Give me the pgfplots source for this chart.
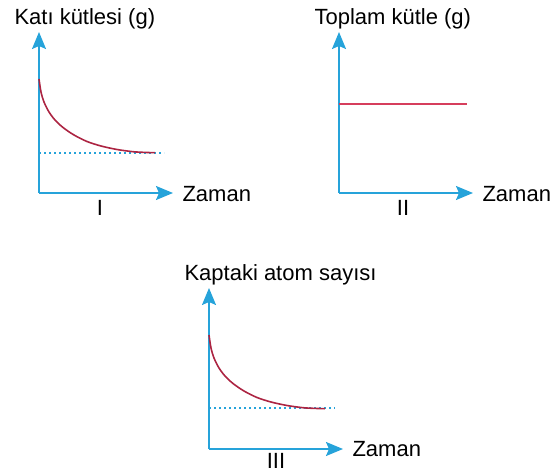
\documentclass[border=0pt]{standalone}
\usepackage{fontspec}
\setmainfont{Liberation Sans}
\usepackage{pgfplots}
\usepackage{pgfplotstable}
\pgfplotsset{compat=1.18}
\usetikzlibrary{arrows.meta}

\definecolor{AxisBlue}{RGB}{38,163,218}
\definecolor{CurveRed}{RGB}{172,36,66}
\definecolor{LineRed}{RGB}{214,62,92}

% decay curve, in pixel units from the axis origin
\pgfplotstableread{
x     y
0     114
2     101
5     91
10    81
16    73
24    65.5
35    58
48    51.5
62    47
78    43.5
94    41.3
106   40.6
116   40.3
}\decaydata

\pgfplotsset{
    panel/.style={
        scale only axis,
        width=134pt, height=161pt,
        xmin=0, xmax=134, ymin=0, ymax=161,
        axis lines*=left,
        separate axis lines,
        ticks=none,
        clip=false,
        anchor=south west,
        axis line style={draw=AxisBlue, line width=1.7pt,
            -{Stealth[length=17pt,width=14pt,inset=3pt]}},
    },
    limit/.style={AxisBlue, line width=1.9pt, dash pattern=on 1.9pt off 3.1pt},
}

\begin{document}
\begin{tikzpicture}[font=\fontsize{22}{26}\selectfont]
\path[use as bounding box] (0pt,0pt) rectangle (559pt,-473pt);

% I
\begin{axis}[panel, at={(39pt,-193pt)}]
\addplot[limit] coordinates {(0,40) (125,40)};
\addplot[CurveRed, line width=1.6pt, smooth] table {\decaydata};
\end{axis}
\node[anchor=base west] at (11pt,-25pt) {Katı kütlesi (g)};
\node[anchor=base west] at (179pt,-201pt) {Zaman};
\node[anchor=base] at (100pt,-215pt) {I};

% II
\begin{axis}[panel, at={(339pt,-193pt)}]
\addplot[LineRed, line width=1.6pt] coordinates {(0,89) (128,89)};
\end{axis}
\node[anchor=base west] at (311pt,-25pt) {Toplam kütle (g)};
\node[anchor=base west] at (479pt,-201pt) {Zaman};
\node[anchor=base] at (403pt,-215pt) {II};

% III
\begin{axis}[panel, at={(209pt,-449pt)}]
\addplot[limit] coordinates {(0,40.7) (126,40.7)};
\addplot[CurveRed, line width=1.6pt, smooth] table {\decaydata};
\end{axis}
\node[anchor=base west] at (181pt,-280pt) {Kaptaki atom sayısı};
\node[anchor=base west] at (349pt,-456pt) {Zaman};
\node[anchor=base] at (276pt,-468.5pt) {III};
\end{tikzpicture}
\end{document}
